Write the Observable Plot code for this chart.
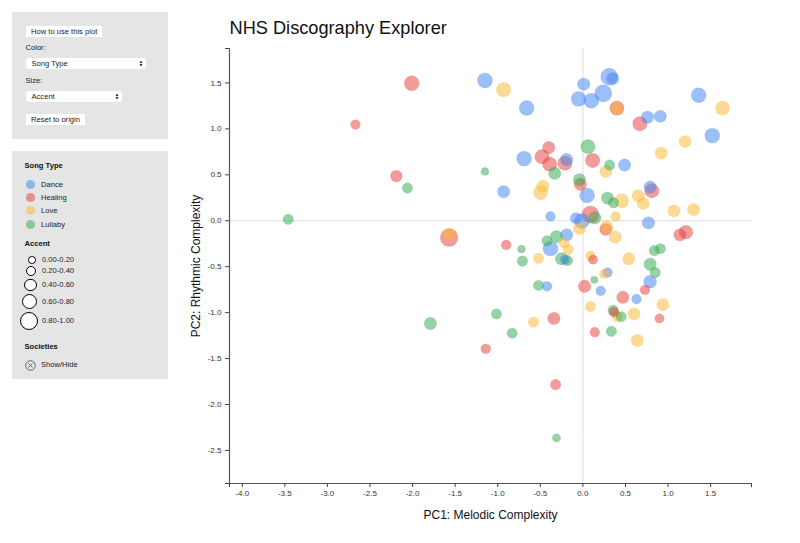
<!DOCTYPE html>
<html><head><meta charset="utf-8">
<script src="https://cdn.jsdelivr.net/npm/d3@7"></script>
<script src="https://cdn.jsdelivr.net/npm/@observablehq/plot@0.6"></script>
<style>
html,body{margin:0;padding:0;background:#fff;width:800px;height:543px;overflow:hidden;font-family:"Liberation Sans",Arial,sans-serif;color:#222}
.a{position:absolute;white-space:nowrap}
.panel{background:#e5e5e5}
.t{font-size:7.6px;line-height:10px}
.b{font-size:7.6px;line-height:10px;font-weight:bold;color:#111}
.btn{background:#fff;font-size:7.6px;line-height:11px;height:11px;padding-left:5.5px;box-sizing:border-box}
.sel{background:#fff;border-radius:3px}
.dot{border-radius:50%;box-sizing:border-box}
</style></head><body>
<div id="root"></div>
<script>
const songTypes = ["Dance","Healing","Love","Lullaby"];
const songColors = ["#4285F4","#E5403F","#F9B933","#34A853"];
const accentBins = ["0.00-0.20","0.20-0.40","0.40-0.60","0.60-0.80","0.80-1.00"];

const dancePC1 = [-1.14,-0.65,0.02,0.32,0.36,0.25,-0.04,0.11,1.37,0.77,0.92,1.53,-0.68,0.5,-0.92,0.06,-0.18,0.8,-0.37,-0.07,0.0,0.78,-0.18,-0.37,-0.2,-0.41,0.3,0.22,0.64,0.8];
const dancePC2 = [1.52,1.22,1.48,1.56,1.54,1.38,1.32,1.3,1.36,1.12,1.13,0.92,0.67,0.6,0.31,0.27,0.66,0.36,0.04,0.02,-0.01,-0.03,-0.16,-0.31,-0.43,-0.72,-0.57,-0.77,-0.86,-0.67];
const danceAccent = [0.62,0.61,0.43,0.76,0.43,0.76,0.61,0.61,0.61,0.43,0.43,0.61,0.61,0.43,0.43,0.61,0.43,0.43,0.24,0.36,0.61,0.43,0.43,0.61,0.21,0.24,0.24,0.24,0.24,0.47];

const healingPC1 = [-2.0,-2.66,-2.18,-1.56,0.41,0.68,-0.39,-0.47,-0.38,-0.2,0.125,0.82,-0.02,0.1,0.28,1.22,1.15,-0.89,0.13,0.03,0.48,0.74,0.375,0.91,-0.33,0.15,-1.13,-0.31];
const healingPC2 = [1.49,1.04,0.48,-0.19,1.22,1.05,0.79,0.69,0.61,0.62,0.65,0.32,0.39,0.06,-0.1,-0.13,-0.16,-0.27,-0.43,-0.72,-0.84,-0.76,-1.0,-1.07,-1.07,-1.22,-1.4,-1.79];
const healingAccent = [0.61,0.24,0.39,0.81,0.57,0.57,0.43,0.57,0.57,0.57,0.57,0.57,0.43,0.76,0.43,0.53,0.43,0.24,0.21,0.43,0.43,0.24,0.24,0.21,0.43,0.24,0.24,0.29];

const lovePC1 = [-1.56,-0.92,1.65,0.41,1.21,0.93,0.28,-0.46,-0.485,0.465,0.66,0.72,1.08,1.31,0.395,-0.03,0.29,0.39,-0.21,-0.16,-0.51,0.1,0.55,0.26,0.1,0.95,0.61,0.415,-0.57,0.65];
const lovePC2 = [-0.15,1.42,1.22,1.22,0.855,0.73,0.53,0.37,0.3,0.21,0.265,0.18,0.1,0.115,0.04,-0.09,-0.07,-0.185,-0.25,-0.32,-0.415,-0.39,-0.42,-0.585,-0.94,-0.92,-1.02,-1.05,-1.11,-1.31];
const loveAccent = [0.43,0.57,0.57,0.43,0.43,0.43,0.43,0.43,0.57,0.57,0.43,0.43,0.43,0.43,0.24,0.43,0.43,0.43,0.29,0.29,0.29,0.24,0.43,0.24,0.29,0.43,0.43,0.29,0.29,0.43];

const lullabyPC1 = [-3.45,-2.05,-1.14,0.07,0.325,-0.32,-0.03,0.3,0.37,0.15,-0.3,-0.41,-0.71,0.85,0.92,-0.7,-0.24,-0.17,0.145,0.8,0.86,-0.51,0.365,0.46,-1.005,-1.78,-0.82,0.345,-0.3];
const lullabyPC2 = [0.01,0.35,0.53,0.8,0.6,0.51,0.44,0.24,0.19,0.025,-0.18,-0.225,-0.315,-0.33,-0.31,-0.445,-0.42,-0.44,-0.65,-0.48,-0.57,-0.71,-0.98,-1.05,-1.02,-1.125,-1.23,-1.21,-2.37];
const lullabyAccent = [0.29,0.29,0.1,0.57,0.29,0.43,0.43,0.43,0.29,0.43,0.43,0.29,0.1,0.29,0.29,0.29,0.43,0.29,0.07,0.43,0.29,0.29,0.29,0.29,0.29,0.43,0.29,0.29,0.14];

const rows = (type, xs, ys, as) => xs.map((x,i)=>({type, pc1:x, pc2:ys[i], accent:as[i]}));
const points = [
  ...rows("Dance",dancePC1,dancePC2,danceAccent),
  ...rows("Healing",healingPC1,healingPC2,healingAccent),
  ...rows("Love",lovePC1,lovePC2,loveAccent),
  ...rows("Lullaby",lullabyPC1,lullabyPC2,lullabyAccent)
];

const xDomain = [-4.15, 1.98];
const yDomain = [-2.86, 1.875];
const xTicks = d3.range(-4, 1.75, 0.5);
const yTicks = d3.range(-2.5, 1.75, 0.5);
const fmt = d => d.toFixed(1);
const noText = () => "";

const chart = Plot.plot({
  width: 800, height: 543,
  marginLeft: 229, marginRight: 49, marginTop: 48, marginBottom: 60,
  style: {position:"absolute", left:"0px", top:"0px", background:"transparent", fontFamily:'"Liberation Sans",Arial,sans-serif'},
  x: {domain: xDomain},
  y: {domain: yDomain},
  r: {type:"linear", domain:[0,1], range:[3.2,10.2]},
  color: {domain: songTypes, range: songColors},
  marks: [
    Plot.ruleX([0], {stroke:"#ddd", strokeWidth:1}),
    Plot.ruleY([0], {stroke:"#ddd", strokeWidth:1}),
    Plot.dot(points, {x:"pc1", y:"pc2", r:"accent", dx:-0.9, dy:-0.6, fill:"type", fillOpacity:0.52, stroke:"type", strokeOpacity:0.15, strokeWidth:1}),
    Plot.ruleX([xDomain[0]], {stroke:"#555", strokeWidth:1.2}),
    Plot.ruleY([yDomain[0]], {stroke:"#555", strokeWidth:1.2}),
    Plot.axisX(xTicks, {tickFormat:fmt, tickSize:4, tickPadding:3, fontSize:8, fill:"#333", stroke:"#444", label:null}),
    Plot.axisY(yTicks, {tickFormat:fmt, tickSize:4, tickPadding:4, fontSize:8, fill:"#333", stroke:"#444", label:null}),
    Plot.axisX(xDomain, {tickFormat:noText, tickSize:4, stroke:"#444", label:null}),
    Plot.axisY(yDomain, {tickFormat:noText, tickSize:4, stroke:"#444", label:null}),
    Plot.text(["PC1: Melodic Complexity"], {frameAnchor:"bottom", dy:35, textAnchor:"middle", fontSize:12, fill:"#111"}),
    Plot.text(["PC2: Rhythmic Complexity"], {frameAnchor:"left", dx:-33, rotate:-90, textAnchor:"middle", fontSize:12, fill:"#111"})
  ]
});

const root = document.getElementById("root");
root.appendChild(chart);

function box(cls, left, top, w, h, text, extra) {
  const d = document.createElement("div");
  d.className = "a " + cls;
  d.style.left = left + "px"; d.style.top = top + "px";
  if (w != null) d.style.width = w + "px";
  if (h != null) d.style.height = h + "px";
  if (text) d.textContent = text;
  if (extra) Object.assign(d.style, extra);
  root.appendChild(d);
  return d;
}
const label = (cls, x, cy, text) => box(cls, x, cy - 5, null, null, text);

box("", 229.5, 17, null, null, "NHS Discography Explorer", {fontSize:"18.2px", lineHeight:"22px", color:"#111"});

box("panel", 12, 12, 155.5, 126.5);
box("btn", 25.5, 26, 76.5, null, "How to use this plot");
label("t", 25.5, 48, "Color:");
box("sel", 26, 58, 120, 11);
label("t", 31.5, 63.5, "Song Type");
box("sel", 26, 91, 96, 11);
label("t", 31.5, 96.5, "Accent");
label("t", 25.5, 80.5, "Size:");
box("btn", 25.5, 114, 59.5, null, "Reset to origin");
for (const [x,y] of [[141,63.5],[117,96.5]]) {
  box("", x-1.5, y-3, 3, 2.5, "", {background:"#222", clipPath:"polygon(50% 0,100% 100%,0 100%)"});
  box("", x-1.5, y+0.5, 3, 2.5, "", {background:"#222", clipPath:"polygon(0 0,100% 0,50% 100%)"});
}

box("panel", 12, 151, 155.5, 228);
label("b", 24.5, 166, "Song Type");
const typeY = [184, 197, 210, 224];
songTypes.forEach((t,i) => {
  box("dot", 25.5, typeY[i]-4.5, 9, 9, "", {background:songColors[i], opacity:0.52});
  label("t", 41, typeY[i]+0.5, t);
});
label("b", 24.5, 244, "Accent");
const binY = [260, 271, 285, 301.5, 320.5];
const binR = [3.8, 5.2, 6.4, 7.6, 9];
const binX = [32.2, 31.2, 30.4, 29.6, 28.7];
accentBins.forEach((t,i) => {
  const r = binR[i];
  box("dot", binX[i]-r, binY[i]-r, 2*r, 2*r, "", {background:"#fff", border:"1px solid #000"});
  label("t", 42, binY[i], t);
});
label("b", 24.5, 347, "Societies");
box("", 24.5, 359.5, 11, 11, "").innerHTML = '<svg width="11" height="11" style="display:block"><circle cx="5.5" cy="5.5" r="4.8" fill="none" stroke="#666"/><path d="M3.4 3.4L7.6 7.6M7.6 3.4L3.4 7.6" stroke="#666"/></svg>';
label("t", 41, 365, "Show/Hide");
</script>
</body></html>
